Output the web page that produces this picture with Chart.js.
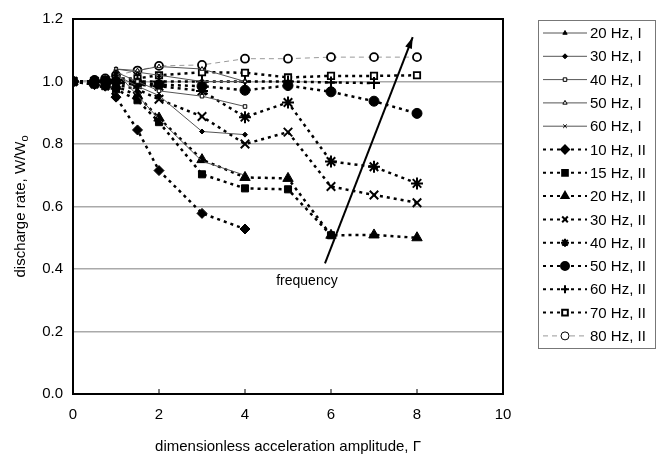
<!DOCTYPE html>
<html>
<head>
<meta charset="utf-8">
<script src="https://cdn.jsdelivr.net/npm/chart.js@4.4.1/dist/chart.umd.min.js"></script>
<style>
  html, body { margin: 0; padding: 0; background: #fff; }
  #wrap { width: 657px; height: 460px; }
</style>
</head>
<body>
<div id="wrap"><canvas id="chart" width="657" height="460"></canvas></div>
<script>
// x positions (dimensionless acceleration amplitude)
const gammaII = [0, 0.5, 0.75, 1, 1.5, 2, 3, 4, 5, 6, 7, 8];
const gammaI = [1, 1.5, 2, 3, 4];

// series I (thin solid lines)
const hz20_I = [1.03, 0.955, 0.88, 0.745, 0.70];
const hz30_I = [1.02, 0.985, 0.955, 0.84, 0.83];
const hz40_I = [1.03, 1.0, 0.97, 0.953, 0.92];
const hz50_I = [1.04, 1.035, 1.048, 1.04, 1.0];
const hz60_I = [1.04, 1.03, 1.02, 1.0, 1.0];

// series II (dotted lines)
const hz10_II = [1.0, 0.99, 0.985, 0.95, 0.845, 0.715, 0.578, 0.528];
const hz15_II = [1.0, 0.99, 0.985, 0.975, 0.94, 0.87, 0.703, 0.658, 0.655, 0.508];
const hz20_II = [1.0, 0.995, 0.99, 0.985, 0.955, 0.883, 0.75, 0.693, 0.69, 0.508, 0.509, 0.50];
const hz30_II = [1.0, 0.995, 0.995, 0.99, 0.975, 0.943, 0.888, 0.80, 0.838, 0.664, 0.637, 0.612];
const hz40_II = [1.0, 1.0, 1.0, 0.995, 0.99, 0.985, 0.97, 0.886, 0.933, 0.744, 0.727, 0.674];
const hz50_II = [1.0, 1.0, 1.0, 1.0, 0.995, 0.99, 0.985, 0.972, 0.987, 0.967, 0.937, 0.898];
const hz60_II = [1.0, 1.0, 1.0, 1.005, 1.0, 1.0, 1.0, 1.0, 1.0, 0.997, 0.995];
const hz70_II = [1.0, 1.0, 1.005, 1.01, 1.01, 1.02, 1.03, 1.028, 1.013, 1.018, 1.018, 1.02];
const hz80_II = [1.0, 1.005, 1.01, 1.02, 1.035, 1.05, 1.053, 1.073, 1.073, 1.078, 1.078, 1.078];

const xTicks = [0, 2, 4, 6, 8, 10];
const yTicks = [0, 0.2, 0.4, 0.6, 0.8, 1.0, 1.2];

const FONT = "'Liberation Sans', Arial, sans-serif";

function pts(xs, ys) {
    return ys.map((y, i) => ({ x: xs[i], y: y }));
}

function seriesI(label, ys, style, open) {
    return {
        label: label,
        data: pts(gammaI, ys),
        showLine: true,
        borderColor: '#555',
        borderWidth: 1,
        pointStyle: style,
        pointRadius: 2.5,
        pointBorderColor: '#000',
        pointBorderWidth: 1,
        pointBackgroundColor: open ? '#fff' : '#000'
    };
}

function seriesII(label, ys, style, open, radius) {
    return {
        label: label,
        data: pts(gammaII, ys),
        showLine: true,
        borderColor: '#000',
        borderWidth: 2.5,
        borderDash: [3, 4],
        pointStyle: style,
        pointRadius: radius || 5,
        pointBorderColor: '#000',
        pointBorderWidth: open ? 1.8 : 1,
        pointBackgroundColor: open ? '#fff' : '#000'
    };
}

const datasets = [
    seriesI('20 Hz, I', hz20_I, 'triangle', false),
    seriesI('30 Hz, I', hz30_I, 'rectRot', false),
    seriesI('40 Hz, I', hz40_I, 'rect', true),
    seriesI('50 Hz, I', hz50_I, 'triangle', true),
    seriesI('60 Hz, I', hz60_I, 'crossRot', false),
    seriesII('10 Hz, II', hz10_II, 'rectRot', false, 5),
    seriesII('15 Hz, II', hz15_II, 'rect', false, 5),
    seriesII('20 Hz, II', hz20_II, 'triangle', false, 6),
    seriesII('30 Hz, II', hz30_II, 'crossRot', false, 6),
    seriesII('40 Hz, II', hz40_II, 'star', false, 6),
    seriesII('50 Hz, II', hz50_II, 'circle', false, 5),
    seriesII('60 Hz, II', hz60_II, 'cross', false, 6),
    seriesII('70 Hz, II', hz70_II, 'rect', true, 4.5),
    seriesII('80 Hz, II', hz80_II, 'circle', true, 4)
];
// crosses need a stroke width
datasets.forEach(d => {
    if (d.pointStyle === 'crossRot' || d.pointStyle === 'cross' || d.pointStyle === 'star') {
        d.pointBorderWidth = d.pointRadius > 4 ? 2 : 1.5;
    }
});
// 80 Hz, II is drawn with a grey dashed line
datasets[13].borderColor = '#999';
datasets[13].borderWidth = 1;
datasets[13].borderDash = [5, 4];

// frame, axis titles, tick marks, arrow and legend
const decorPlugin = {
    id: 'decor',
    afterDraw(chart) {
        const ctx = chart.ctx;
        const area = chart.chartArea;
        const xs = chart.scales.x;
        const ys = chart.scales.y;
        ctx.save();

        // frame
        ctx.strokeStyle = '#000';
        ctx.lineWidth = 2;
        ctx.strokeRect(area.left, area.top, area.right - area.left, area.bottom - area.top);

        // small inward ticks on x axis
        ctx.lineWidth = 1;
        xTicks.slice(1, -1).forEach(v => {
            const px = xs.getPixelForValue(v);
            ctx.beginPath();
            ctx.moveTo(px, area.bottom);
            ctx.lineTo(px, area.bottom - 5);
            ctx.stroke();
        });

        // arrow "frequency"
        const ax0 = xs.getPixelForValue(5.86), ay0 = ys.getPixelForValue(0.418);
        const ax1 = xs.getPixelForValue(7.9), ay1 = ys.getPixelForValue(1.142);
        ctx.lineWidth = 2;
        ctx.beginPath();
        ctx.moveTo(ax0, ay0);
        ctx.lineTo(ax1, ay1);
        ctx.stroke();
        const ang = Math.atan2(ay1 - ay0, ax1 - ax0);
        ctx.beginPath();
        ctx.moveTo(ax1, ay1);
        ctx.lineTo(ax1 - 12 * Math.cos(ang - 0.3), ay1 - 12 * Math.sin(ang - 0.3));
        ctx.lineTo(ax1 - 12 * Math.cos(ang + 0.3), ay1 - 12 * Math.sin(ang + 0.3));
        ctx.closePath();
        ctx.fillStyle = '#000';
        ctx.fill();
        ctx.font = '14px ' + FONT;
        ctx.textAlign = 'center';
        ctx.textBaseline = 'middle';
        ctx.fillText('frequency', xs.getPixelForValue(5.44), ys.getPixelForValue(0.36));

        // axis titles
        ctx.font = '15px ' + FONT;
        ctx.fillText('dimensionless acceleration amplitude, \u0393', (area.left + area.right) / 2, 447);
        ctx.save();
        ctx.translate(21, (area.top + area.bottom) / 2);
        ctx.rotate(-Math.PI / 2);
        const t1 = 'discharge rate, W/W';
        const w1 = ctx.measureText(t1).width;
        ctx.font = '11px ' + FONT;
        const w2 = ctx.measureText('o').width;
        ctx.font = '15px ' + FONT;
        ctx.textAlign = 'left';
        ctx.fillText(t1, -(w1 + w2) / 2, 0);
        ctx.font = '11px ' + FONT;
        ctx.fillText('o', -(w1 + w2) / 2 + w1, 4);
        ctx.restore();

        // legend box
        const lx = 538, ly = 20, lw = 117, lh = 328;
        ctx.lineWidth = 1;
        ctx.strokeStyle = '#777';
        ctx.strokeRect(lx + 0.5, ly + 0.5, lw, lh);
        chart.data.datasets.forEach((d, i) => {
            const cy = 33 + i * 23.3;
            ctx.save();
            ctx.strokeStyle = d.borderColor;
            ctx.lineWidth = i >= 5 && i < 13 ? 2 : d.borderWidth;
            ctx.setLineDash(d.borderDash || []);
            ctx.beginPath();
            ctx.moveTo(543, cy);
            ctx.lineTo(587, cy);
            ctx.stroke();
            ctx.setLineDash([]);
            ctx.fillStyle = d.pointBackgroundColor;
            ctx.strokeStyle = d.pointBorderColor;
            const r = i < 5 ? 2.5 : Math.min(d.pointRadius, 4);
            Chart.helpers.drawPoint(ctx, {
                pointStyle: d.pointStyle,
                radius: r,
                borderWidth: d.pointBorderWidth,
                rotation: 0
            }, 565, cy);
            ctx.restore();
            ctx.fillStyle = '#000';
            ctx.font = '15px ' + FONT;
            ctx.textAlign = 'left';
            ctx.textBaseline = 'middle';
            ctx.fillText(d.label, 590, cy + 1);
        });

        ctx.restore();
    }
};

const chart = new Chart(document.getElementById('chart').getContext('2d'), {
    type: 'scatter',
    data: { datasets: datasets },
    options: {
        responsive: false,
        animation: false,
        layout: { padding: { top: 14, right: 154, left: 0, bottom: 0 } },
        plugins: {
            legend: { display: false },
            tooltip: { enabled: false }
        },
        scales: {
            x: {
                type: 'linear',
                min: 0,
                max: 10,
                afterFit(scale) { scale.height = 66; },
                afterBuildTicks(scale) { scale.ticks = xTicks.map(v => ({ value: v })); },
                ticks: {
                    color: '#000',
                    font: { family: FONT, size: 15 },
                    padding: 12
                },
                grid: { display: false, drawTicks: false },
                border: { display: true, color: '#000', width: 2 }
            },
            y: {
                type: 'linear',
                min: 0,
                max: 1.2,
                afterFit(scale) { scale.width = 73; },
                afterBuildTicks(scale) { scale.ticks = yTicks.map(v => ({ value: v })); },
                ticks: {
                    color: '#000',
                    font: { family: FONT, size: 15 },
                    padding: 10,
                    callback: v => v.toFixed(1)
                },
                grid: { color: '#aaa', lineWidth: 1.5, drawTicks: false },
                border: { display: true, color: '#000', width: 2 }
            }
        }
    },
    plugins: [decorPlugin]
});
</script>
</body>
</html>
